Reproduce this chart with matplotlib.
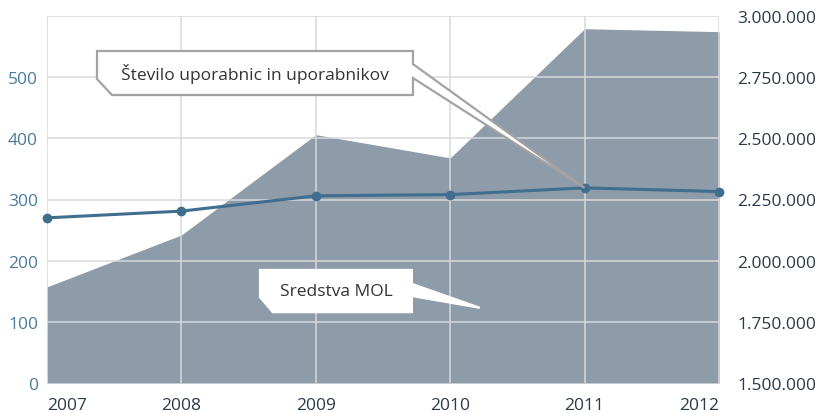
import matplotlib
matplotlib.use("Agg")
import matplotlib.pyplot as plt
from matplotlib.patches import Polygon

plt.rcParams["font.family"] = ["Open Sans", "DejaVu Sans"]

years = [2007, 2008, 2009, 2010, 2011, 2012]
users = [270, 281, 306, 308, 319, 313]
assets = [1893000, 2105000, 2515000, 2420000, 2948000, 2936000]

left_ticks = [0, 100, 200, 300, 400, 500]
right_ticks = [1500000, 1750000, 2000000, 2250000, 2500000, 2750000, 3000000]

AREA = "#8e9ba8"
LINE = "#3f6e8f"
GRID = "#d6d9dc"
LEFT_TXT = "#4a7a9b"
DARK = "#2b3a48"

fig = plt.figure(figsize=(8.2, 4.14), dpi=100)
ax = fig.add_axes([47 / 820, 1 - 384 / 414, 672 / 820, 367 / 414])
ax2 = ax.twinx()

# area on right scale
ax2.fill_between(years, assets, 1500000, color=AREA, lw=0, zorder=1)
ax2.set_ylim(1500000, 3000000)
ax.set_ylim(0, 600)
ax.set_xlim(2007, 2012)

# grid drawn over the area
ax2.set_zorder(0)
ax.set_zorder(1)
ax.patch.set_visible(False)
for v in left_ticks[1:] + [600]:
    ax.axhline(v, color=GRID, lw=1.1, zorder=2)
for yr in years:
    ax.axvline(yr, color=GRID, lw=1.1, zorder=2)

ax.plot(years, users, color=LINE, lw=2.2, marker="o", ms=6, zorder=5, clip_on=False)

for a in (ax, ax2):
    for s in a.spines.values():
        s.set_visible(False)
    a.tick_params(length=0)

ax.set_yticks(left_ticks)
ax.set_yticklabels([str(v) for v in left_ticks], color=LEFT_TXT, fontsize=12.5)
ax.tick_params(axis="y", pad=6.5)

ax2.set_yticks(right_ticks)
ax2.set_yticklabels([f"{v:,}".replace(",", ".") for v in right_ticks],
                    color=DARK, fontsize=12.5, ha="right")
ax2.tick_params(axis="y", pad=70)

ax.set_xticks(years)
ax.set_xticklabels([str(y) for y in years], color=DARK, fontsize=12.5)
ax.tick_params(axis="x", pad=10)
labs = ax.get_xticklabels()
labs[0].set_ha("left")
labs[-1].set_ha("right")


def callout(box, cut, tail, tip_data, text, edge):
    # box: (x0, x1, y0, y1) in axes fraction; cut: (dx, dy); tail: (ya, yb) on right edge
    x0, x1, y0, y1 = box
    tip = ax.transAxes.inverted().transform(ax.transData.transform(tip_data))
    pts = [(x0, y1), (x1, y1), (x1, tail[0]), tuple(tip), (x1, tail[1]),
           (x1, y0), (x0 + cut[0], y0), (x0, y0 + cut[1])]
    ax.add_patch(Polygon(pts, closed=True, transform=ax.transAxes, facecolor="white",
                         edgecolor=edge, lw=1.6, zorder=6, clip_on=False))
    ax.text((x0 + x1) / 2, (y0 + y1) / 2, text, transform=ax.transAxes, ha="center",
            va="center", fontsize=12.5, color="#333333", zorder=7)


callout((0.0744, 0.5446, 0.7847, 0.9046), (0.0223, 0.0436), (0.869, 0.831),
        (2011, users[4]), "Število uporabnic in uporabnikov", "#a3a3a3")
callout((0.317, 0.543, 0.193, 0.308), (0.019, 0.041), (0.270, 0.237),
        (2010.22, 123), "Sredstva MOL", "white")

fig.savefig("out.png", dpi=100)
